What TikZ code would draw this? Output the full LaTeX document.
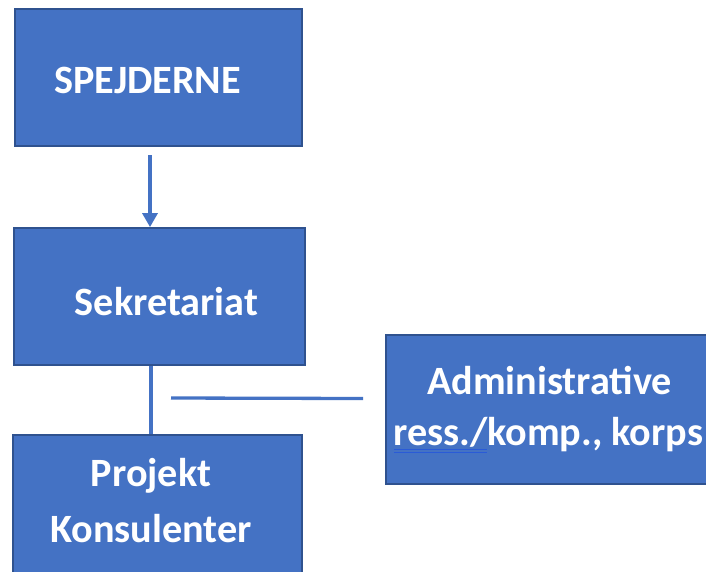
\documentclass[tikz,border=0pt]{standalone}
\usepackage{fontspec}
\setmainfont{Carlito}
\usetikzlibrary{arrows.meta}
\definecolor{boxfill}{HTML}{4472C4}
\definecolor{boxedge}{HTML}{2F528F}
\definecolor{spell}{HTML}{2A5BD7}
\begin{document}
\begin{tikzpicture}[x=1pt,y=-1pt,
  box/.style={draw=boxedge,line width=1.8pt,fill=boxfill},
  lbl/.style={text=white,font=\fontsize{40.2}{48}\selectfont\bfseries,inner sep=0pt,anchor=center},
  conn/.style={draw=boxfill,line width=3.3pt}]
\useasboundingbox (0,0) rectangle (706,571);
\fill[white] (0,0) rectangle (706,571);
% boxes
\draw[box] (15,9) rectangle (302,146);
\coordinate (spejBot) at (150,155);
\node[box,minimum width=291pt,minimum height=137pt,inner sep=0pt] (sekr) at (159.5,296.5) {};
\node[box,minimum width=334pt,minimum height=149pt,inner sep=0pt] (admin) at (553,409.5) {};
\node[box,minimum width=289pt,minimum height=150pt,inner sep=0pt] (proj) at (157.5,510) {};
% texts
\node[lbl] (tSpej) at (147.5,80) {SPEJDERNE};
\node[lbl] (tSekr) at (166.5,302) {Sekretariat};
\node[lbl] (tAdm1) at (549.5,381) {Administrative};
\node[lbl,anchor=west] (tAdm2) at (393,435) {ress./komp., korps};
\node[lbl] (tProj1) at (151,476) {Projekt};
\node[lbl] (tProj2) at (151,529) {Konsulenter};
% spell underline
\draw[spell,line width=0.9pt] (394,449.5) -- (487,449.5);
\draw[spell,line width=0.9pt] (394,452.5) -- (487,452.5);
% connectors
\draw[conn,-{Triangle[width=15pt,length=14pt]}] (spejBot) -- (sekr.north -| spejBot);
\draw[conn] (sekr.south -| 151,0) -- (proj.north -| 151,0);
\coordinate (hA) at (171,398);
\coordinate (hB) at (363,398.5);
\draw[conn] (hA) -- (hB);
\end{tikzpicture}
\end{document}
